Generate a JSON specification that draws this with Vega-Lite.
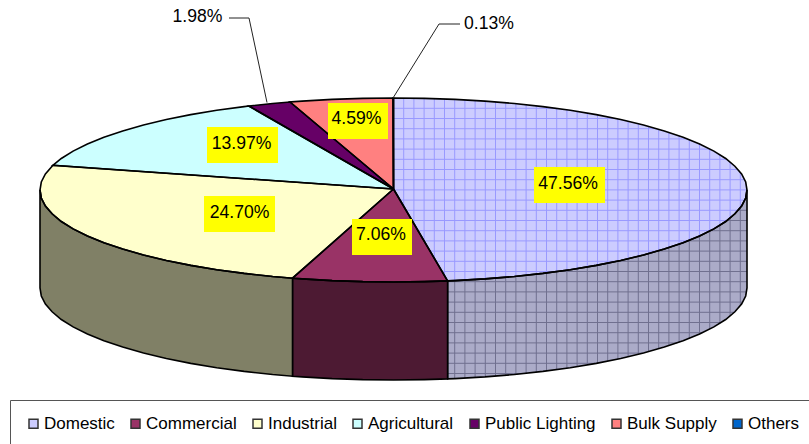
{
"$schema":"https://vega.github.io/schema/vega-lite/v6.json",
"width":809,"height":444,"padding":0,"autosize":{"type":"none"},"background":"white",
"config":{"view":{"stroke":null},"font":"Liberation Sans"},
"datasets":{
"faces":[
{"s":"Domestic","i":0,"x":393.5,"y":189},{"s":"Domestic","i":1,"x":393.5,"y":98},{"s":"Domestic","i":2,"x":424.3,"y":98.35},{"s":"Domestic","i":3,"x":454.9,"y":99.4},{"s":"Domestic","i":4,"x":485,"y":101.1},{"s":"Domestic","i":5,"x":514.4,"y":103.5},{"s":"Domestic","i":6,"x":542.9,"y":106.6},{"s":"Domestic","i":7,"x":570.25,"y":110.3},{"s":"Domestic","i":8,"x":596.3,"y":114.6},{"s":"Domestic","i":9,"x":620.7,"y":119.5},{"s":"Domestic","i":10,"x":643.5,"y":124.95},{"s":"Domestic","i":11,"x":664.3,"y":130.9},{"s":"Domestic","i":12,"x":683.1,"y":137.2},{"s":"Domestic","i":13,"x":699.6,"y":144},{"s":"Domestic","i":14,"x":713.9,"y":151.1},{"s":"Domestic","i":15,"x":725.7,"y":158.5},{"s":"Domestic","i":16,"x":734.9,"y":166.2},{"s":"Domestic","i":17,"x":741.6,"y":174},{"s":"Domestic","i":18,"x":745.7,"y":182},{"s":"Domestic","i":19,"x":747,"y":190},{"s":"Domestic","i":20,"x":745.7,"y":198},{"s":"Domestic","i":21,"x":741.6,"y":206},{"s":"Domestic","i":22,"x":734.9,"y":213.8},{"s":"Domestic","i":23,"x":725.7,"y":221.5},{"s":"Domestic","i":24,"x":713.9,"y":228.9},{"s":"Domestic","i":25,"x":699.6,"y":236},{"s":"Domestic","i":26,"x":683.1,"y":242.8},{"s":"Domestic","i":27,"x":664.3,"y":249.1},{"s":"Domestic","i":28,"x":643.5,"y":255.05},{"s":"Domestic","i":29,"x":620.7,"y":260.5},{"s":"Domestic","i":30,"x":596.3,"y":265.4},{"s":"Domestic","i":31,"x":570.25,"y":269.7},{"s":"Domestic","i":32,"x":542.9,"y":273.4},{"s":"Domestic","i":33,"x":514.4,"y":276.5},{"s":"Domestic","i":34,"x":485,"y":278.9},{"s":"Domestic","i":35,"x":454.9,"y":280.6},{"s":"Domestic","i":36,"x":447.6,"y":280.9},{"s":"Domestic","i":37,"x":393.5,"y":189},
{"s":"Commercial","i":0,"x":393.5,"y":189},{"s":"Commercial","i":1,"x":447.6,"y":280.9},{"s":"Commercial","i":2,"x":424.3,"y":281.65},{"s":"Commercial","i":3,"x":393.5,"y":282},{"s":"Commercial","i":4,"x":362.7,"y":281.65},{"s":"Commercial","i":5,"x":332.1,"y":280.6},{"s":"Commercial","i":6,"x":302,"y":278.9},{"s":"Commercial","i":7,"x":292.5,"y":278.2},{"s":"Commercial","i":8,"x":393.5,"y":189},
{"s":"Industrial","i":0,"x":393.5,"y":189},{"s":"Industrial","i":1,"x":292.5,"y":278.2},{"s":"Industrial","i":2,"x":272.6,"y":276.5},{"s":"Industrial","i":3,"x":244.1,"y":273.4},{"s":"Industrial","i":4,"x":216.75,"y":269.7},{"s":"Industrial","i":5,"x":190.7,"y":265.4},{"s":"Industrial","i":6,"x":166.3,"y":260.5},{"s":"Industrial","i":7,"x":143.5,"y":255.05},{"s":"Industrial","i":8,"x":122.7,"y":249.1},{"s":"Industrial","i":9,"x":103.9,"y":242.8},{"s":"Industrial","i":10,"x":87.4,"y":236},{"s":"Industrial","i":11,"x":73.1,"y":228.9},{"s":"Industrial","i":12,"x":61.3,"y":221.5},{"s":"Industrial","i":13,"x":52.1,"y":213.8},{"s":"Industrial","i":14,"x":45.4,"y":206},{"s":"Industrial","i":15,"x":41.3,"y":198},{"s":"Industrial","i":16,"x":40,"y":190},{"s":"Industrial","i":17,"x":41.3,"y":182},{"s":"Industrial","i":18,"x":45.4,"y":174},{"s":"Industrial","i":19,"x":52.1,"y":166.2},{"s":"Industrial","i":20,"x":52.9,"y":165.3},{"s":"Industrial","i":21,"x":393.5,"y":189},
{"s":"Agricultural","i":0,"x":393.5,"y":189},{"s":"Agricultural","i":1,"x":52.9,"y":165.3},{"s":"Agricultural","i":2,"x":61.3,"y":158.5},{"s":"Agricultural","i":3,"x":73.1,"y":151.1},{"s":"Agricultural","i":4,"x":87.4,"y":144},{"s":"Agricultural","i":5,"x":103.9,"y":137.2},{"s":"Agricultural","i":6,"x":122.7,"y":130.9},{"s":"Agricultural","i":7,"x":143.5,"y":124.95},{"s":"Agricultural","i":8,"x":166.3,"y":119.5},{"s":"Agricultural","i":9,"x":190.7,"y":114.6},{"s":"Agricultural","i":10,"x":216.75,"y":110.3},{"s":"Agricultural","i":11,"x":244.1,"y":106.6},{"s":"Agricultural","i":12,"x":248.8,"y":106},{"s":"Agricultural","i":13,"x":393.5,"y":189},
{"s":"Public Lighting","i":0,"x":393.5,"y":189},{"s":"Public Lighting","i":1,"x":248.8,"y":106},{"s":"Public Lighting","i":2,"x":272.6,"y":103.5},{"s":"Public Lighting","i":3,"x":290,"y":102},{"s":"Public Lighting","i":4,"x":393.5,"y":189},
{"s":"Bulk Supply","i":0,"x":393.5,"y":189},{"s":"Bulk Supply","i":1,"x":290,"y":102},{"s":"Bulk Supply","i":2,"x":302,"y":101.1},{"s":"Bulk Supply","i":3,"x":332.1,"y":99.4},{"s":"Bulk Supply","i":4,"x":362.7,"y":98.35},{"s":"Bulk Supply","i":5,"x":393,"y":98},{"s":"Bulk Supply","i":6,"x":393.5,"y":189},
{"s":"Others","i":0,"x":393.5,"y":189},{"s":"Others","i":1,"x":393,"y":98},{"s":"Others","i":2,"x":393.5,"y":98},{"s":"Others","i":3,"x":393.5,"y":189}
],
"wallDomestic":[{"x":447.6,"y":280.9,"y2":378.9},{"x":454.9,"y":280.6,"y2":378.6},{"x":485,"y":278.9,"y2":376.9},{"x":514.4,"y":276.5,"y2":374.5},{"x":542.9,"y":273.4,"y2":371.4},{"x":570.25,"y":269.7,"y2":367.7},{"x":596.3,"y":265.4,"y2":363.4},{"x":620.7,"y":260.5,"y2":358.5},{"x":643.5,"y":255.05,"y2":353.05},{"x":664.3,"y":249.1,"y2":347.1},{"x":683.1,"y":242.8,"y2":340.8},{"x":699.6,"y":236,"y2":334},{"x":713.9,"y":228.9,"y2":326.9},{"x":725.7,"y":221.5,"y2":319.5},{"x":734.9,"y":213.8,"y2":311.8},{"x":741.6,"y":206,"y2":304},{"x":745.7,"y":198,"y2":296},{"x":747,"y":190,"y2":288}],
"wallCommercial":[{"x":292.5,"y":278.2,"y2":376.2},{"x":302,"y":278.9,"y2":376.9},{"x":332.1,"y":280.6,"y2":378.6},{"x":362.7,"y":281.65,"y2":379.65},{"x":393.5,"y":282,"y2":380},{"x":424.3,"y":281.65,"y2":379.65},{"x":447.6,"y":280.9,"y2":378.9}],
"wallIndustrial":[{"x":40,"y":190,"y2":288},{"x":41.3,"y":198,"y2":296},{"x":45.4,"y":206,"y2":304},{"x":52.1,"y":213.8,"y2":311.8},{"x":61.3,"y":221.5,"y2":319.5},{"x":73.1,"y":228.9,"y2":326.9},{"x":87.4,"y":236,"y2":334},{"x":103.9,"y":242.8,"y2":340.8},{"x":122.7,"y":249.1,"y2":347.1},{"x":143.5,"y":255.05,"y2":353.05},{"x":166.3,"y":260.5,"y2":358.5},{"x":190.7,"y":265.4,"y2":363.4},{"x":216.75,"y":269.7,"y2":367.7},{"x":244.1,"y":273.4,"y2":371.4},{"x":272.6,"y":276.5,"y2":374.5},{"x":292.5,"y":278.2,"y2":376.2}],
"gridTopV":[{"x":403.7,"y":98,"y2":206.3},{"x":413.9,"y":98.2,"y2":223.7},{"x":424.1,"y":98.3,"y2":241},{"x":434.3,"y":98.6,"y2":258.4},{"x":444.5,"y":99,"y2":275.7},{"x":454.7,"y":99.4,"y2":280.6},{"x":464.9,"y":99.9,"y2":280.1},{"x":475.1,"y":100.5,"y2":279.5},{"x":485.3,"y":101.2,"y2":278.8},{"x":495.5,"y":101.9,"y2":278.1},{"x":505.7,"y":102.8,"y2":277.2},{"x":515.9,"y":103.7,"y2":276.3},{"x":526.1,"y":104.7,"y2":275.3},{"x":536.3,"y":105.8,"y2":274.2},{"x":546.5,"y":107.1,"y2":272.9},{"x":556.7,"y":108.4,"y2":271.6},{"x":566.9,"y":109.8,"y2":270.2},{"x":577.1,"y":111.4,"y2":268.6},{"x":587.3,"y":113.1,"y2":266.9},{"x":597.5,"y":114.9,"y2":265.1},{"x":607.7,"y":116.8,"y2":263.2},{"x":617.9,"y":118.9,"y2":261.1},{"x":628.1,"y":121.2,"y2":258.8},{"x":638.3,"y":123.6,"y2":256.4},{"x":648.5,"y":126.3,"y2":253.7},{"x":658.7,"y":129.2,"y2":250.8},{"x":668.9,"y":132.3,"y2":247.7},{"x":679.1,"y":135.8,"y2":244.2},{"x":689.3,"y":139.6,"y2":240.4},{"x":699.5,"y":143.9,"y2":236.1},{"x":709.7,"y":148.9,"y2":231.1},{"x":719.9,"y":154.7,"y2":225.3},{"x":730.1,"y":161.9,"y2":218.1},{"x":740.3,"y":172.2,"y2":207.8}],
"gridTopH":[{"y":108.3,"x":393.5,"x2":556},{"y":118.5,"x":393.5,"x2":616},{"y":128.7,"x":393.5,"x2":657.1},{"y":138.9,"x":393.5,"x2":687.5},{"y":149.1,"x":393.5,"x2":710.1},{"y":159.3,"x":393.5,"x2":726.7},{"y":169.5,"x":393.5,"x2":738.1},{"y":179.7,"x":393.5,"x2":744.8},{"y":189.9,"x":394,"x2":747},{"y":200.1,"x":400,"x2":744.9},{"y":210.3,"x":406,"x2":738.3},{"y":220.5,"x":412,"x2":727},{"y":230.7,"x":418,"x2":710.5},{"y":240.9,"x":424,"x2":688},{"y":251.1,"x":430,"x2":657.8},{"y":261.3,"x":436,"x2":616.9},{"y":271.5,"x":442,"x2":557.5}],
"gridWallV":[{"x":454.7,"y":280.6,"y2":378.6},{"x":464.9,"y":280.1,"y2":378.1},{"x":475.1,"y":279.5,"y2":377.5},{"x":485.3,"y":278.8,"y2":376.8},{"x":495.5,"y":278.1,"y2":376.1},{"x":505.7,"y":277.2,"y2":375.2},{"x":515.9,"y":276.3,"y2":374.3},{"x":526.1,"y":275.3,"y2":373.3},{"x":536.3,"y":274.2,"y2":372.2},{"x":546.5,"y":272.9,"y2":370.9},{"x":556.7,"y":271.6,"y2":369.6},{"x":566.9,"y":270.2,"y2":368.2},{"x":577.1,"y":268.6,"y2":366.6},{"x":587.3,"y":266.9,"y2":364.9},{"x":597.5,"y":265.1,"y2":363.1},{"x":607.7,"y":263.2,"y2":361.2},{"x":617.9,"y":261.1,"y2":359.1},{"x":628.1,"y":258.8,"y2":356.8},{"x":638.3,"y":256.4,"y2":354.4},{"x":648.5,"y":253.7,"y2":351.7},{"x":658.7,"y":250.8,"y2":348.8},{"x":668.9,"y":247.7,"y2":345.7},{"x":679.1,"y":244.2,"y2":342.2},{"x":689.3,"y":240.4,"y2":338.4},{"x":699.5,"y":236.1,"y2":334.1},{"x":709.7,"y":231.1,"y2":329.1},{"x":719.9,"y":225.3,"y2":323.3},{"x":730.1,"y":218.1,"y2":316.1},{"x":740.3,"y":207.8,"y2":305.8}],
"gridWallH":[{"y":210.3,"x":738.3,"x2":747},{"y":220.5,"x":727,"x2":747},{"y":230.7,"x":710.5,"x2":747},{"y":240.9,"x":688,"x2":747},{"y":251.1,"x":657.8,"x2":747},{"y":261.3,"x":616.9,"x2":747},{"y":271.5,"x":557.5,"x2":747},{"y":281.7,"x":447.6,"x2":747},{"y":291.9,"x":447.6,"x2":746.7},{"y":302.1,"x":447.6,"x2":742.8},{"y":312.3,"x":447.6,"x2":734.5},{"y":322.5,"x":447.6,"x2":721.2},{"y":332.7,"x":447.6,"x2":702.5},{"y":342.9,"x":447.6,"x2":677.2},{"y":353.1,"x":447.6,"x2":643.3},{"y":363.3,"x":447.6,"x2":596.5},{"y":373.5,"x":447.6,"x2":524.1}],
"leaders":[{"s":"Public Lighting","i":0,"x":229,"y":18},{"s":"Public Lighting","i":1,"x":249,"y":18},{"s":"Public Lighting","i":2,"x":267,"y":102.5},{"s":"Others","i":0,"x":460,"y":24},{"s":"Others","i":1,"x":439,"y":24},{"s":"Others","i":2,"x":393,"y":98}],
"labels":[
{"s":"Domestic","label":"47.56%","x":568,"y":184,"x1":534,"x2":605,"y1":167,"y2":203},
{"s":"Commercial","label":"7.06%","x":381,"y":234.5,"x1":352,"x2":412,"y1":219,"y2":255},
{"s":"Industrial","label":"24.70%","x":239.5,"y":213,"x1":204,"x2":275,"y1":196,"y2":232},
{"s":"Agricultural","label":"13.97%","x":241.5,"y":144,"x1":207,"x2":278,"y1":127,"y2":163},
{"s":"Bulk Supply","label":"4.59%","x":356.5,"y":118.5,"x1":328,"x2":388,"y1":103,"y2":139}],
"freeLabels":[{"s":"Public Lighting","label":"1.98%","x":197.5,"y":17},{"s":"Others","label":"0.13%","x":489,"y":24}]
},
"layer":[
{"data":{"name":"faces"},"mark":{"type":"line","strokeWidth":0,"clip":false},
 "encoding":{
  "x":{"field":"x","type":"quantitative","scale":{"domain":[0,809],"nice":false,"zero":false},"axis":null},
  "y":{"field":"y","type":"quantitative","scale":{"domain":[444,0],"nice":false,"zero":false},"axis":null},
  "order":{"field":"i","type":"quantitative"},
  "fill":{"field":"s","type":"nominal","sort":null,
   "scale":{"domain":["Domestic","Commercial","Industrial","Agricultural","Public Lighting","Bulk Supply","Others"],"range":["#CCCCFF","#993366","#FFFFCC","#CCFFFF","#660066","#FF8080","#0066CC"]},
   "legend":{"title":null,"orient":"none","legendX":10,"legendY":400,"direction":"horizontal","columns":7,"padding":15,"strokeColor":"#555555","symbolType":"square","symbolSize":81,"symbolStrokeColor":"#333333","symbolStrokeWidth":1.5,"symbolOpacity":1,"labelFont":"Liberation Sans","labelFontSize":17,"labelColor":"#000000","labelOffset":2,"columnPadding":12,"labelLimit":300}}}},
{"data":{"name":"gridTopV"},"mark":{"type":"rule","color":"#9999FF","strokeWidth":1},"encoding":{"x":{"field":"x","type":"quantitative"},"y":{"field":"y","type":"quantitative"},"y2":{"field":"y2"}}},
{"data":{"name":"gridTopH"},"mark":{"type":"rule","color":"#9999FF","strokeWidth":1},"encoding":{"y":{"field":"y","type":"quantitative"},"x":{"field":"x","type":"quantitative"},"x2":{"field":"x2"}}},
{"data":{"name":"wallDomestic"},"mark":{"type":"area","fill":"#ABABC8","stroke":null},"encoding":{"x":{"field":"x","type":"quantitative"},"y":{"field":"y","type":"quantitative"},"y2":{"field":"y2"}}},
{"data":{"name":"gridWallV"},"mark":{"type":"rule","color":"#70708F","strokeWidth":1},"encoding":{"x":{"field":"x","type":"quantitative"},"y":{"field":"y","type":"quantitative"},"y2":{"field":"y2"}}},
{"data":{"name":"gridWallH"},"mark":{"type":"rule","color":"#70708F","strokeWidth":1},"encoding":{"y":{"field":"y","type":"quantitative"},"x":{"field":"x","type":"quantitative"},"x2":{"field":"x2"}}},
{"data":{"name":"wallDomestic"},"mark":{"type":"area","fill":"transparent","stroke":"#000000","strokeWidth":1.6},"encoding":{"x":{"field":"x","type":"quantitative"},"y":{"field":"y","type":"quantitative"},"y2":{"field":"y2"}}},
{"data":{"name":"wallCommercial"},"mark":{"type":"area","fill":"#4D1A33","stroke":"#000000","strokeWidth":1.6},"encoding":{"x":{"field":"x","type":"quantitative"},"y":{"field":"y","type":"quantitative"},"y2":{"field":"y2"}}},
{"data":{"name":"wallIndustrial"},"mark":{"type":"area","fill":"#808066","stroke":"#000000","strokeWidth":1.6},"encoding":{"x":{"field":"x","type":"quantitative"},"y":{"field":"y","type":"quantitative"},"y2":{"field":"y2"}}},
{"data":{"name":"faces"},"mark":{"type":"line","stroke":"#000000","strokeWidth":1.6},"encoding":{"x":{"field":"x","type":"quantitative"},"y":{"field":"y","type":"quantitative"},"order":{"field":"i","type":"quantitative"},"detail":{"field":"s"}}},
{"data":{"name":"leaders"},"mark":{"type":"line","stroke":"#222222","strokeWidth":1},"encoding":{"x":{"field":"x","type":"quantitative"},"y":{"field":"y","type":"quantitative"},"order":{"field":"i","type":"quantitative"},"detail":{"field":"s"}}},
{"data":{"name":"labels"},"mark":{"type":"rect","fill":"#FFFF00"},"encoding":{"x":{"field":"x1","type":"quantitative"},"x2":{"field":"x2"},"y":{"field":"y1","type":"quantitative"},"y2":{"field":"y2"}}},
{"data":{"name":"labels"},"mark":{"type":"text","font":"Liberation Sans","fontSize":17.6,"color":"#000000","align":"center","baseline":"middle"},"encoding":{"x":{"field":"x","type":"quantitative"},"y":{"field":"y","type":"quantitative"},"text":{"field":"label"}}},
{"data":{"name":"freeLabels"},"mark":{"type":"text","font":"Liberation Sans","fontSize":17.6,"color":"#000000","align":"center","baseline":"middle"},"encoding":{"x":{"field":"x","type":"quantitative"},"y":{"field":"y","type":"quantitative"},"text":{"field":"label"}}}
]
}
